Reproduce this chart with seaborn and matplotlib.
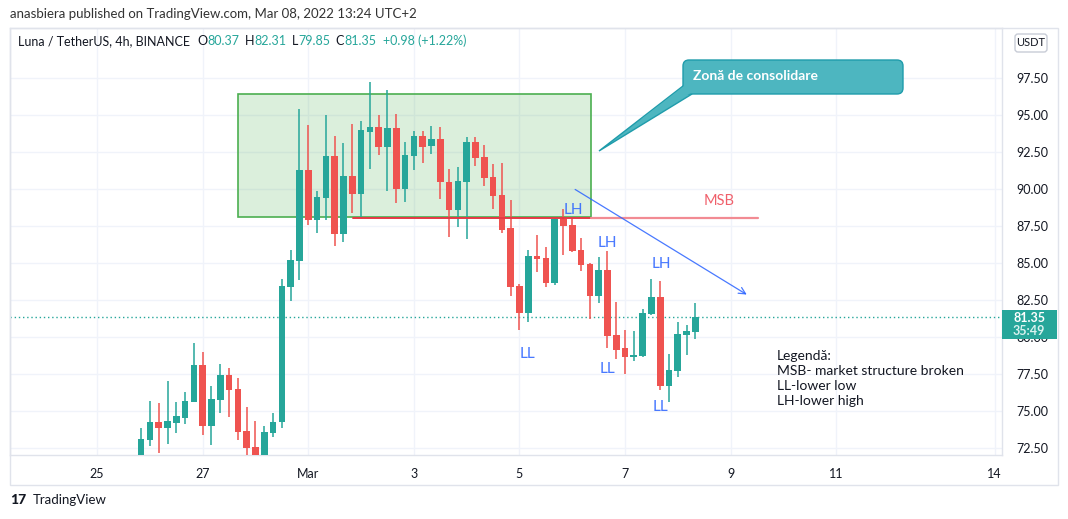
import matplotlib
matplotlib.use("Agg")
import matplotlib.pyplot as plt
import matplotlib.dates as mdates
from matplotlib.patches import Rectangle, FancyBboxPatch, Polygon
from matplotlib.transforms import IdentityTransform
import numpy as np
import pandas as pd
import seaborn as sns

# Velas de 4h LUNA/USDT
opens = [71.90, 73.05, 74.25, 73.87, 74.20, 74.55, 75.63, 78.10, 74.00, 75.76,
         77.43, 76.49, 73.65, 72.57, 71.60, 73.53, 74.28, 83.40, 85.16, 91.30,
         87.93, 89.42, 92.24, 86.97, 90.88, 89.68, 93.86, 94.20, 92.85, 94.13,
         90.03, 92.24, 93.58, 92.88, 93.40, 90.47, 88.60, 90.50, 93.18, 92.16,
         90.81, 89.60, 87.38, 83.47, 81.64, 85.50, 85.36, 83.67, 88.00, 87.59,
         85.90, 84.95, 82.79, 84.53, 80.16, 79.28, 78.68, 78.74, 81.57, 82.72,
         76.71, 77.72, 80.16, 80.37]
highs = [73.85, 75.68, 75.54, 77.03, 75.60, 76.28, 79.60, 78.99, 76.69, 78.20,
         77.90, 77.23, 75.29, 74.34, 73.99, 74.86, 83.92, 85.88, 95.40, 94.30,
         89.86, 95.00, 93.58, 93.10, 94.38, 94.60, 97.23, 95.00, 96.69, 95.07,
         93.20, 93.93, 93.93, 94.26, 94.19, 91.35, 91.49, 93.51, 93.51, 92.97,
         91.69, 91.76, 89.28, 83.60, 85.90, 86.91, 86.10, 88.05, 88.67, 88.13,
         86.71, 85.02, 85.40, 85.81, 82.39, 80.49, 80.43, 81.91, 83.92, 83.78,
         78.87, 81.03, 80.83, 82.31]
lows = [71.60, 72.66, 72.18, 72.79, 73.53, 74.14, 75.60, 73.40, 72.72, 74.89,
        74.61, 73.06, 71.70, 71.30, 71.40, 73.26, 73.87, 82.45, 83.87, 87.59,
        87.05, 87.93, 86.17, 86.44, 88.40, 88.13, 91.37, 92.30, 89.90, 89.07,
        89.14, 91.30, 91.77, 92.40, 89.34, 86.78, 87.45, 86.64, 91.57, 90.22,
        88.67, 87.05, 82.79, 80.49, 81.03, 84.41, 83.40, 83.53, 85.56, 85.76,
        84.48, 81.24, 82.32, 79.28, 78.53, 77.52, 78.40, 78.67, 81.50, 76.44,
        75.63, 77.32, 78.80, 79.85]
closes = [73.10, 74.25, 73.87, 74.32, 74.66, 75.68, 78.10, 74.00, 75.80, 77.43,
          76.44, 73.60, 72.52, 71.60, 73.58, 74.25, 83.45, 85.20, 91.30, 87.90,
          89.46, 92.24, 86.97, 90.88, 89.68, 93.99, 94.20, 92.85, 94.13, 90.03,
          92.30, 93.58, 92.86, 93.40, 90.45, 88.60, 90.54, 93.18, 92.11, 90.76,
          89.55, 87.25, 83.40, 81.64, 85.50, 85.29, 83.67, 88.00, 87.52, 85.83,
          84.88, 82.79, 84.53, 80.10, 79.15, 78.68, 78.80, 81.64, 82.72, 76.71,
          77.79, 80.22, 80.43, 81.35]

price_ticks = [72.5, 75.0, 77.5, 80.0, 82.5, 85.0, 87.5, 90.0, 92.5, 95.0, 97.5]
date_ticks = ["2022-02-25", "2022-02-27", "2022-03-01", "2022-03-03", "2022-03-05",
              "2022-03-07", "2022-03-09", "2022-03-11", "2022-03-14"]
date_labels = ["25", "27", "Mar", "3", "5", "7", "9", "11", "14"]

GREEN = "#26a69a"
RED = "#ef5350"
BLUE = "#2962ff"
TXT = "#131722"

df = pd.DataFrame({
    "time": pd.date_range("2022-02-25 20:00", periods=len(opens), freq="4h"),
    "open": opens, "high": highs, "low": lows, "close": closes,
})
df["x"] = mdates.date2num(df["time"])
df["up"] = df["close"] >= df["open"]

sns.set_style("white")
plt.rcParams["font.family"] = ["Lato", "DejaVu Sans"]

W, H = 1068, 519
fig = plt.figure(figsize=(W / 100, H / 100), dpi=100)
fig.patch.set_facecolor("white")
ax = fig.add_axes([10 / W, 64 / H, 992 / W, 427 / H])

base = mdates.date2num(pd.Timestamp("2022-03-01"))


def d(days):
    return base + days


# velas
colors = np.where(df["up"], GREEN, RED)
ax.vlines(df["x"], df["low"], df["high"], colors=colors, lw=1.1, zorder=3)
body = (df["close"] - df["open"]).abs().clip(lower=0.07)
bottom = df[["open", "close"]].min(axis=1)
ax.bar(df["x"], body, bottom=bottom, width=0.127, color=colors, lw=0, zorder=4)

# zona de consolidación
ax.add_patch(Rectangle((d(-1.331), 88.1), 6.685, 96.42 - 88.1,
                       facecolor="#4caf50", alpha=0.2, lw=0, zorder=1))
ax.add_patch(Rectangle((d(-1.331), 88.1), 6.685, 96.42 - 88.1,
                       facecolor="none", edgecolor="#4caf50", lw=1.2, zorder=2))

# MSB
ax.plot([d(0.84), d(5.354)], [88.05, 88.05], color="#e53945", lw=1.4, zorder=5)
ax.plot([d(5.354), d(8.51)], [88.05, 88.05], color="#f28b93", lw=1.6, zorder=5)
ax.text(d(7.78), 89.2, "MSB", color="#f0606b", fontsize=10.5, ha="center", va="center")

# flecha azul
ax.annotate("", xy=(d(8.35), 82.77), xytext=(d(5.01), 90.07),
            arrowprops=dict(arrowstyle="->", color=BLUE, lw=0.9, alpha=0.85,
                            mutation_scale=12), zorder=6)

for xd, yv in [(5.03, 88.58), (5.67, 86.35), (6.68, 84.93)]:
    ax.text(d(xd), yv, "LH", color=BLUE, fontsize=11, ha="center", va="center", alpha=0.85)
for xd, yv in [(4.16, 78.85), (5.66, 77.84), (6.68, 75.27)]:
    ax.text(d(xd), yv, "LL", color=BLUE, fontsize=11, ha="center", va="center", alpha=0.85)

# leyenda
ax.text(d(8.87), 79.1, "Legendă:\nMSB- market structure broken\nLL-lower low\nLH-lower high",
        color=TXT, fontsize=10, ha="left", va="top", linespacing=1.3)

# último precio
ax.axhline(81.35, color=GREEN, ls=(0, (1, 2)), lw=1, zorder=2)

# ejes
ax.set_xlim(d(-5.65), d(13.14))
ax.set_ylim(72.03, 100.88)
ax.set_yticks(price_ticks)
ax.set_yticklabels([f"{v:.2f}" for v in price_ticks])
ax.yaxis.tick_right()
ax.set_xticks(mdates.date2num(pd.to_datetime(date_ticks)))
ax.set_xticklabels(date_labels)
ax.tick_params(axis="both", length=0, labelsize=9, labelcolor=TXT)
ax.tick_params(axis="y", pad=10)
ax.tick_params(axis="x", pad=9)
ax.grid(True, color="#f0f3fa", lw=1, zorder=0)
ax.set_axisbelow(True)
for s in ax.spines.values():
    s.set_color("#e0e3eb")
    s.set_linewidth(1)


def px(x, y):
    return (x, H - y)


ident = IdentityTransform()

# marco exterior
fig.add_artist(Rectangle(px(10, 485), 1048, 457, transform=ident, fill=False,
                         edgecolor="#e0e3eb", lw=1))

# callout
tail = Polygon([px(683, 86), px(692, 94), px(599, 151)], closed=True, transform=ident,
               facecolor="#4db6c0", edgecolor="#1f9cab", lw=1)
fig.add_artist(tail)
box = FancyBboxPatch(px(683, 94), 220, 34, boxstyle="round,pad=0,rounding_size=6",
                     transform=ident, facecolor="#4db6c0", edgecolor="#1f9cab", lw=1)
fig.add_artist(box)
fig.add_artist(Polygon([px(684, 86), px(691, 93), px(640, 120)], closed=True,
                       transform=ident, facecolor="#4db6c0", edgecolor="none"))
fig.text(693 / W, 1 - 76 / H, "Zonă de consolidare", color="white", fontsize=10,
         fontweight="bold", ha="left", va="center")

# etiqueta del precio
fig.add_artist(Rectangle(px(1002, 339), 55, 29, transform=ident, facecolor=GREEN, lw=0))
fig.text(1029 / W, 1 - 318 / H, "81.35", color="white", fontsize=9, fontweight="bold",
         ha="center", va="center")
fig.text(1029 / W, 1 - 331 / H, "35:49", color="#d9f2ef", fontsize=9, fontweight="bold",
         ha="center", va="center")

# USDT
fig.add_artist(FancyBboxPatch(px(1015, 52), 32, 18, boxstyle="round,pad=0,rounding_size=3",
                              transform=ident, facecolor="white", edgecolor="#c8ccd6", lw=1))
fig.text(1031 / W, 1 - 43 / H, "USDT", color=TXT, fontsize=8, ha="center", va="center")

# cabeceras
fig.text(10 / W, 1 - 14 / H, "anasbiera published on TradingView.com, Mar 08, 2022 13:24 UTC+2",
         color="#333333", fontsize=9.5, ha="left", va="center")
header = [("Luna / TetherUS, 4h, BINANCE", TXT, 0), ("O", TXT, 5), ("80.37", GREEN, 0),
          ("H", TXT, 4), ("82.31", GREEN, 0), ("L", TXT, 4), ("79.85", GREEN, 0),
          ("C", TXT, 4), ("81.35", GREEN, 0), ("+0.98 (+1.22%)", GREEN, 5)]
prev = fig.text(18 / W, 1 - 41 / H, header[0][0], color=header[0][1], fontsize=9,
                ha="left", va="center")
for s, c, gap in header[1:]:
    prev = ax.annotate(s, xy=(1, 0.5), xycoords=prev, xytext=(gap, 0),
                       textcoords="offset points", color=c, fontsize=9,
                       ha="left", va="center", annotation_clip=False)

fig.text(10 / W, 1 - 500 / H, "17", color=TXT, fontsize=10, fontweight="black",
         ha="left", va="center")
fig.text(33 / W, 1 - 500 / H, "TradingView", color=TXT, fontsize=9.5, ha="left", va="center")

fig.savefig("out.png", dpi=100)
